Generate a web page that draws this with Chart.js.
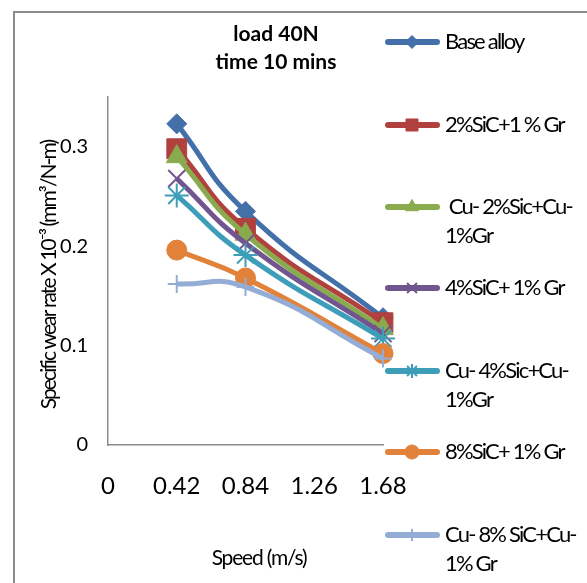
<!DOCTYPE html>
<html>
<head>
<meta charset="utf-8">
<script src="https://cdn.jsdelivr.net/npm/chart.js@4/dist/chart.umd.min.js"></script>
<style>
  html, body { margin: 0; padding: 0; background: #fff; }
  #wrap { width: 587px; height: 583px; position: relative; }
</style>
</head>
<body>
<div id="wrap"><canvas id="c" width="587" height="583"></canvas></div>
<script>
// Sliding speed (m/s) at which each wear test was run
const speeds = [0.42, 0.84, 1.68];

// Axis tick values
const xTicks = [0, 0.42, 0.84, 1.26, 1.68];
const yTicks = [0, 0.1, 0.2, 0.3];

// Specific wear rate (x 10^-3 mm^3/N-m) per composite
const baseAlloy   = [0.323, 0.235, 0.128];
const sic2Gr1     = [0.298, 0.218, 0.123];
const cuSic2Gr1   = [0.290, 0.212, 0.117];
const sic4Gr1     = [0.268, 0.203, 0.112];
const cuSic4Gr1   = [0.251, 0.191, 0.107];
const sic8Gr1     = [0.196, 0.168, 0.092];
const cuSic8Gr1   = [0.162, 0.159, 0.087];

const seriesNames = [
  'Base alloy',
  '2%SiC+1 % Gr',
  ' Cu- 2%Sic+Cu-\n1%Gr',
  '4%SiC+ 1% Gr',
  'Cu- 4%Sic+Cu-\n1%Gr',
  '8%SiC+ 1% Gr',
  'Cu- 8% SiC+Cu-\n1% Gr'
];
const seriesValues = [baseAlloy, sic2Gr1, cuSic2Gr1, sic4Gr1, cuSic4Gr1, sic8Gr1, cuSic8Gr1];

const titleLines = ['load 40N', 'time 10 mins'];
const xTitle = 'Speed (m/s)';
const yTitle = 'Specific wear rate X 10\u207B\u00B3 (mm\u00B3/N-m)';

// Styling per series
const colors = ['#4470AA', '#B1413E', '#89AB4D', '#71558F', '#3E9EB9', '#E2823A', '#93ADD6'];
const styles = ['rectRot', 'rect', 'triangle', 'crossRot', 'star', 'circle', 'cross'];
const radii  = [10, 14, 12, 12, 12, 10, 9];
const legendRadii = [6.5, 8.5, 7.5, 7, 7, 7, 6];
const legendY = [42, 125, 207, 288, 371, 452, 535];

const FONT = 'Lato, "Open Sans", "DejaVu Sans", sans-serif';

function isLineStyle(s) { return s === 'crossRot' || s === 'star' || s === 'cross'; }

const datasets = seriesValues.map((vals, i) => ({
  label: seriesNames[i].replace('\n', ' '),
  data: vals.map((v, j) => ({ x: speeds[j], y: v })),
  borderColor: colors[i],
  backgroundColor: colors[i],
  borderWidth: 5,
  tension: 0.5,
  pointStyle: styles[i],
  pointRadius: radii[i],
  pointHoverRadius: radii[i],
  pointBorderWidth: isLineStyle(styles[i]) ? 2 : 1,
  pointBackgroundColor: colors[i],
  pointBorderColor: colors[i],
  clip: false,
  order: -i
}));

function drawMarker(ctx, style, r, x, y, color) {
  ctx.save();
  ctx.fillStyle = color;
  ctx.strokeStyle = color;
  ctx.lineWidth = isLineStyle(style) ? 2 : 1;
  Chart.helpers.drawPoint(ctx, { pointStyle: style, radius: r, rotation: 0, borderWidth: ctx.lineWidth }, x, y);
  ctx.restore();
}

const decorations = {
  id: 'decorations',
  beforeDraw(chart) {
    const ctx = chart.ctx;
    ctx.save();
    ctx.fillStyle = '#fff';
    ctx.fillRect(0, 0, chart.width, chart.height);
    // outer chart frame
    ctx.strokeStyle = '#8c8c8c';
    ctx.lineWidth = 2;
    ctx.strokeRect(14, 12, chart.width + 20, chart.height + 20);
    ctx.restore();
  },
  afterDraw(chart) {
    const ctx = chart.ctx;
    ctx.save();
    ctx.fillStyle = '#000';
    ctx.textAlign = 'center';
    ctx.textBaseline = 'middle';

    // title
    ctx.font = 'bold 21px ' + FONT;
    ctx.letterSpacing = '0px';
    ctx.fillText(titleLines[0], 276, 34);
    ctx.fillText(titleLines[1], 276, 62);

    // axis titles
    ctx.font = '21px ' + FONT;
    ctx.letterSpacing = '-1.2px';
    ctx.fillText(xTitle, 259, 558);
    ctx.save();
    ctx.translate(49, 275);
    ctx.rotate(-Math.PI / 2);
    ctx.letterSpacing = '-1.9px';
    ctx.fillText(yTitle, 0, 0);
    ctx.restore();

    // legend
    ctx.textAlign = 'left';
    chart.data.datasets.forEach((ds, i) => {
      const y = legendY[i];
      ctx.save();
      ctx.strokeStyle = colors[i];
      ctx.lineWidth = 6;
      ctx.lineCap = 'round';
      ctx.beginPath();
      ctx.moveTo(388, y);
      ctx.lineTo(437, y);
      ctx.stroke();
      ctx.restore();
      drawMarker(ctx, styles[i], legendRadii[i], 412, y, colors[i]);
      ctx.fillStyle = '#000';
      ctx.font = '22px ' + FONT;
      ctx.letterSpacing = '-1.8px';
      seriesNames[i].split('\n').forEach((line, k) => {
        ctx.fillText(line, 445, y + k * 29);
      });
    });
    ctx.restore();
  }
};

new Chart(document.getElementById('c'), {
  type: 'line',
  data: { datasets },
  options: {
    responsive: false,
    animation: false,
    events: [],
    layout: { padding: { left: 0, top: 97, right: 204, bottom: 0 } },
    plugins: { legend: { display: false }, tooltip: { enabled: false }, title: { display: false } },
    scales: {
      x: {
        type: 'linear',
        min: 0,
        max: 1.68,
        afterBuildTicks: s => { s.ticks = xTicks.map(v => ({ value: v })); },
        afterFit: s => { s.height = 138; },
        grid: { display: false, drawTicks: false, tickLength: 0 },
        border: { display: true, color: '#8c8c8c', width: 1.5 },
        ticks: {
          autoSkip: false, maxRotation: 0, color: '#000', padding: 27,
          font: { family: FONT, size: 24 },
          callback: v => String(v)
        }
      },
      y: {
        type: 'linear',
        min: 0,
        max: 0.35,
        afterBuildTicks: s => { s.ticks = yTicks.map(v => ({ value: v })); },
        afterFit: s => { s.width = 108; },
        grid: { display: false, drawTicks: false, tickLength: 0 },
        border: { display: true, color: '#8c8c8c', width: 1.5 },
        ticks: {
          color: '#000', padding: 20,
          font: { family: FONT, size: 20 },
          callback: v => String(v)
        }
      }
    }
  },
  plugins: [decorations]
});
</script>
</body>
</html>
